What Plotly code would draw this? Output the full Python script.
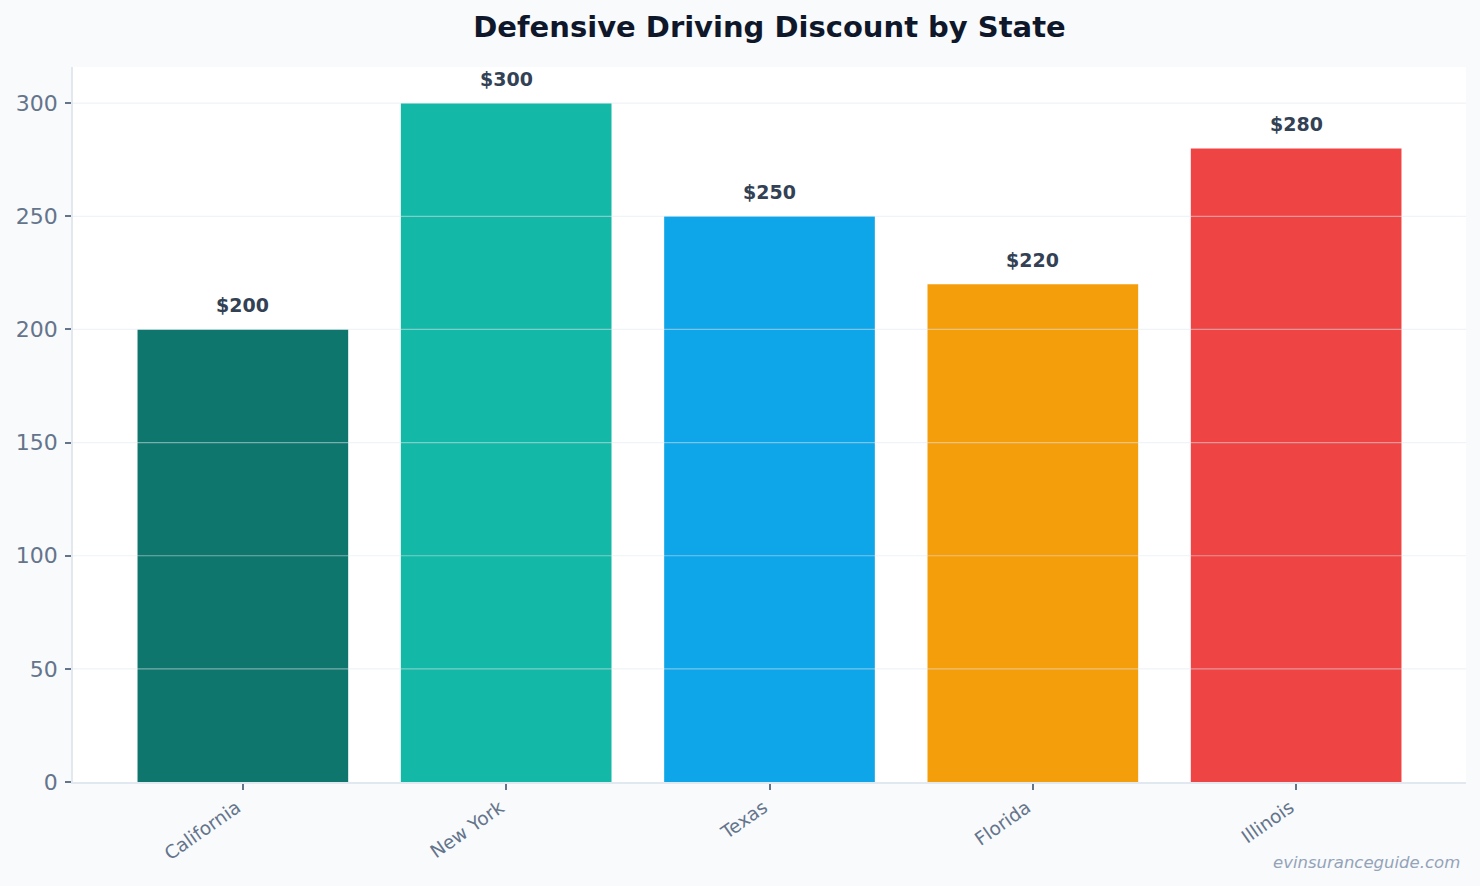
import plotly.graph_objects as go

states = ["California", "New York", "Texas", "Florida", "Illinois"]
discounts = [200, 300, 250, 220, 280]
bar_colors = ["#0F766E", "#14B8A6", "#0EA5E9", "#F59E0B", "#EF4444"]
y_ticks = [0, 50, 100, 150, 200, 250, 300]

FONT = "DejaVu Sans"

fig = go.Figure()
fig.add_trace(go.Bar(
    x=list(range(len(states))), y=discounts,
    marker=dict(color=bar_colors, line=dict(width=0)),
    width=0.8, hoverinfo="skip",
))

# value labels
for i, v in enumerate(discounts):
    fig.add_annotation(x=i, y=v, text=f"<b>${v}</b>", showarrow=False,
                       yanchor="bottom", yshift=11,
                       font=dict(family=FONT, size=19, color="#334155"))

# gridlines drawn above bars
for t in y_ticks[1:]:
    fig.add_shape(type="line", xref="paper", x0=0, x1=1, yref="y", y0=t, y1=t,
                  line=dict(color="rgba(226,232,240,0.5)", width=1.2), layer="above")

fig.add_annotation(xref="paper", yref="paper", x=1.0, y=-0.112, xanchor="right", yanchor="middle",
                   xshift=-4,
                   text="<i>evinsuranceguide.com</i>", showarrow=False,
                   font=dict(family=FONT, size=16.5, color="#94A3B8"))

fig.update_layout(
    width=1480, height=886,
    paper_bgcolor="#F8FAFC", plot_bgcolor="#FFFFFF",
    margin=dict(l=73, r=14, t=67, b=104),
    showlegend=False,
    title=dict(text="<b>Defensive Driving Discount by State</b>", x=0.5, xref="paper",
               y=0.9695, yref="container", xanchor="center", yanchor="middle",
               font=dict(family=FONT, size=29, color="#0F172A")),
    font=dict(family=FONT),
    bargap=0.2,
)
fig.update_xaxes(
    tickmode="array", tickvals=list(range(len(states))), ticktext=states,
    range=[-0.645, 4.645], tickangle=-35,
    tickfont=dict(family=FONT, size=18.5, color="#64748B"),
    ticks="outside", ticklen=6, tickcolor="#64748B", tickwidth=1.5,
    ticklabelshift=-6,
    showline=True, linecolor="#E2E8F0", linewidth=1.5,
    showgrid=False, zeroline=False,
)
fig.update_yaxes(
    range=[0, 316], tickmode="array", tickvals=y_ticks,
    tickfont=dict(family=FONT, size=22, color="#64748B"),
    ticks="outside", ticklen=6, tickcolor="#64748B", tickwidth=1.5,
    ticklabelstandoff=3,
    showline=True, linecolor="#E2E8F0", linewidth=1.5,
    showgrid=False, zeroline=False,
)

fig.write_html("out.html")
